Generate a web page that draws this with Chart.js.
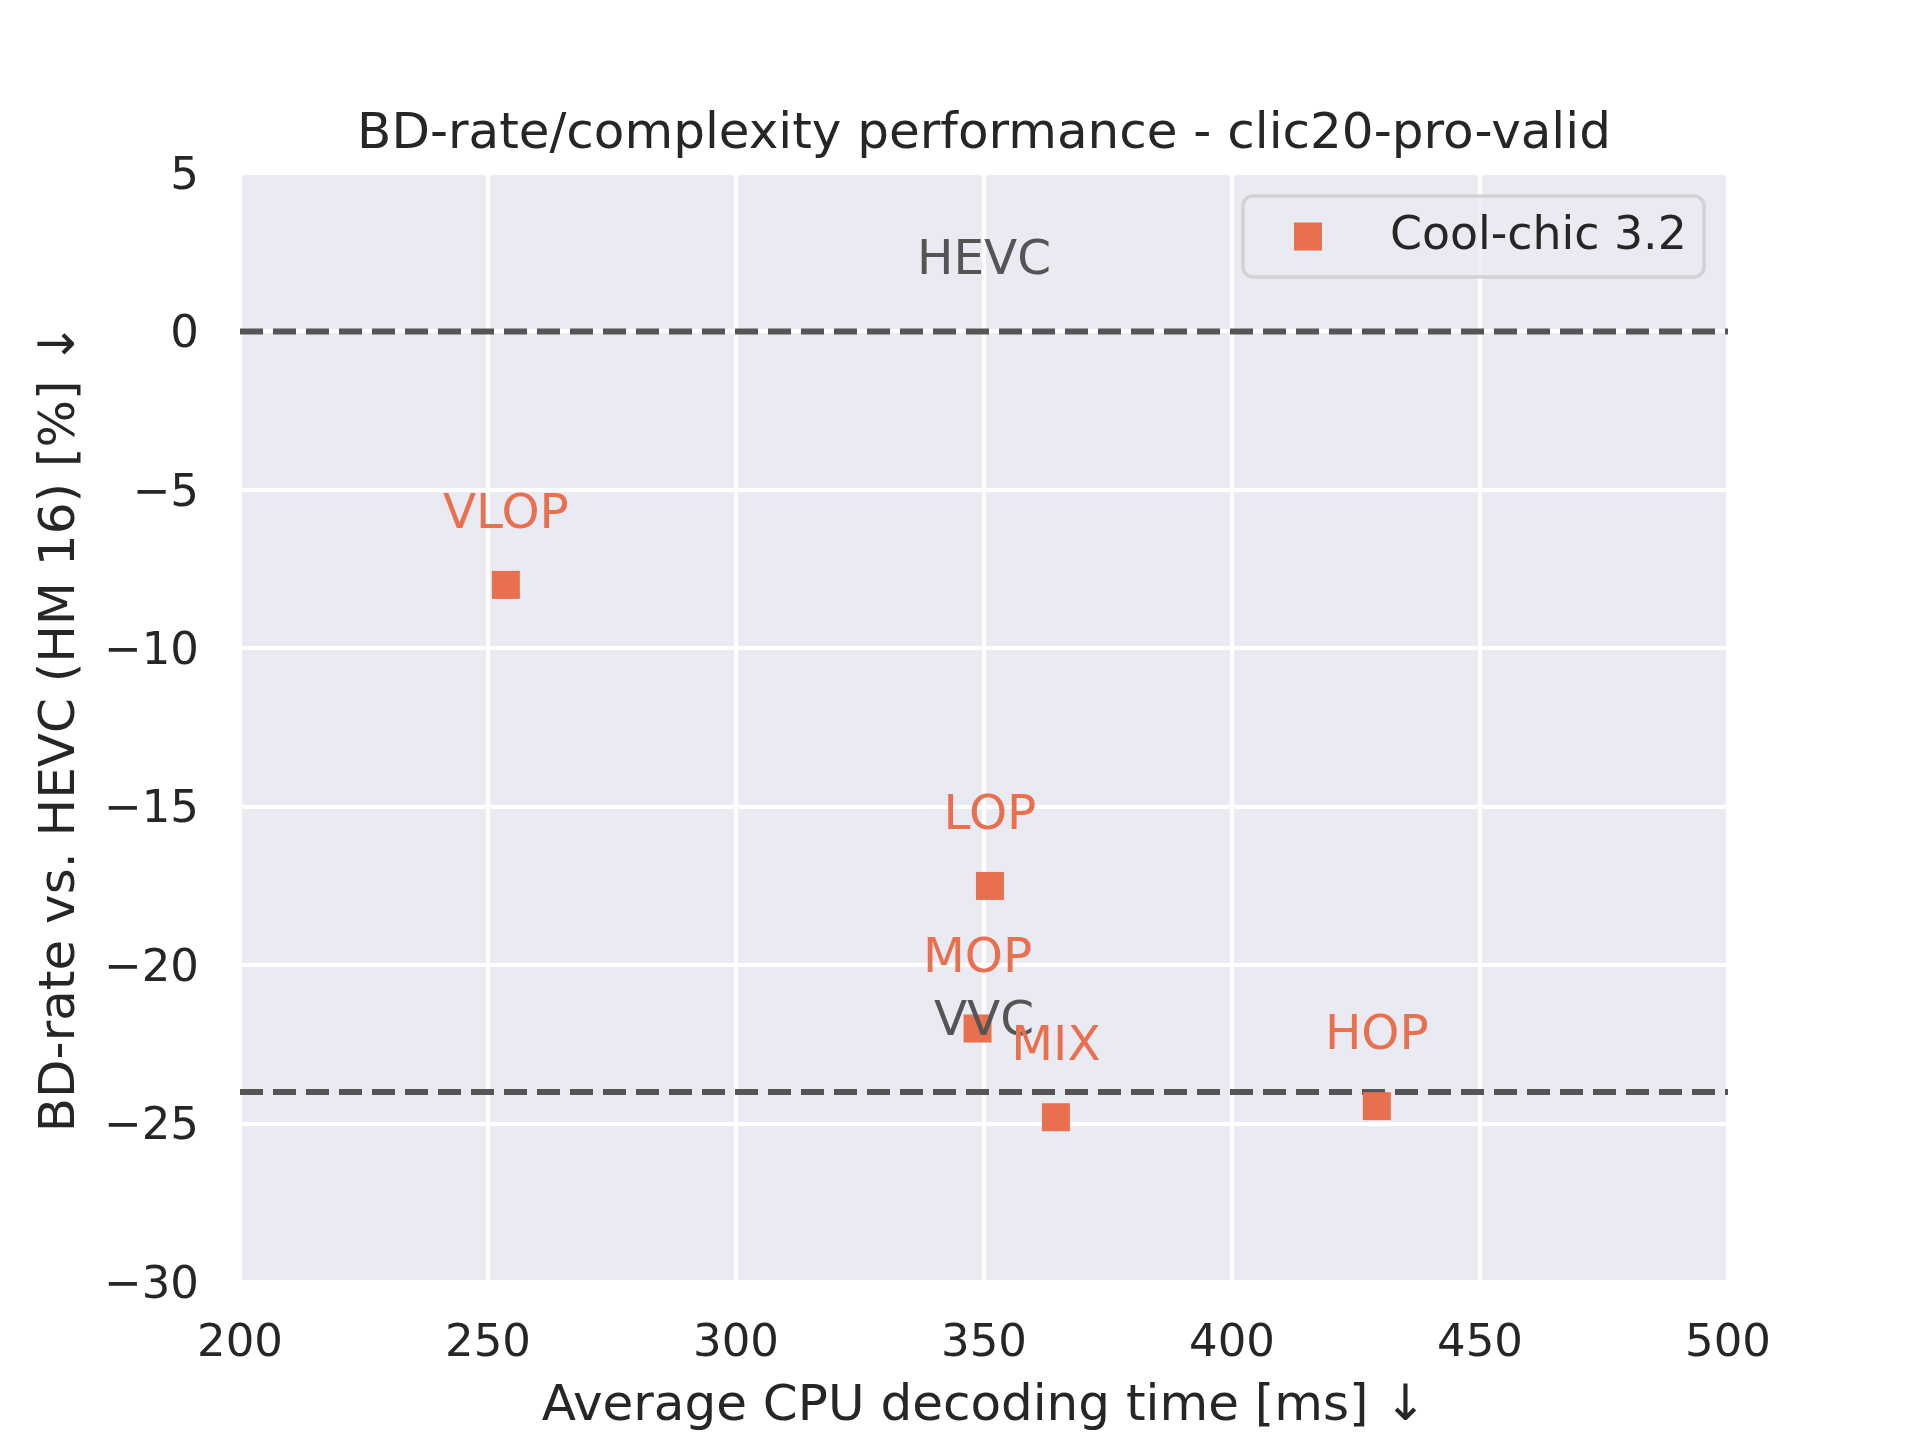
<!DOCTYPE html>
<html>
<head>
<meta charset="utf-8">
<script src="https://cdn.jsdelivr.net/npm/chart.js@4"></script>
<style>
  html, body { margin: 0; padding: 0; background: #ffffff; }
  canvas { display: block; }
</style>
</head>
<body>
<canvas id="c" width="1920" height="1440"></canvas>
<script>
// ---- data ----
const configNames = ['VLOP', 'LOP', 'MOP', 'MIX', 'HOP'];
const decodeTimeMs = [253.6, 351.2, 348.7, 364.5, 429.2];
const bdRate = [-8.0, -17.5, -22.0, -24.8, -24.45];
const refNames = ['HEVC', 'VVC'];
const refBdRate = [0, -24];
const refLabelTime = 350;
const xTicks = [200, 250, 300, 350, 400, 450, 500];
const yTicks = [5, 0, -5, -10, -15, -20, -25, -30];
const seriesName = 'Cool-chic 3.2';

const POINT_COLOR = '#E8704F';
const REF_COLOR = '#555555';
const TEXT_COLOR = '#262626';
const FONT = '"DejaVu Sans", "Liberation Sans", sans-serif';

Chart.defaults.font.family = FONT;
Chart.defaults.color = TEXT_COLOR;

const bgPlugin = {
  id: 'bg',
  beforeDraw(chart) {
    const {ctx, chartArea: a} = chart;
    ctx.save();
    ctx.fillStyle = '#EAEAF2';
    ctx.fillRect(a.left, a.top, a.right - a.left, a.bottom - a.top);
    ctx.restore();
  }
};

const labelPlugin = {
  id: 'labels',
  afterDatasetsDraw(chart) {
    const {ctx, scales: {x, y}} = chart;
    ctx.save();
    ctx.font = '48.5px ' + FONT;
    ctx.textAlign = 'center';
    ctx.textBaseline = 'alphabetic';
    ctx.fillStyle = REF_COLOR;
    refNames.forEach((n, i) => {
      ctx.fillText(n, x.getPixelForValue(refLabelTime), y.getPixelForValue(refBdRate[i]) - 57);
    });
    ctx.fillStyle = POINT_COLOR;
    configNames.forEach((n, i) => {
      ctx.fillText(n, x.getPixelForValue(decodeTimeMs[i]), y.getPixelForValue(bdRate[i]) - 57);
    });
    ctx.restore();
  }
};

function roundRect(ctx, x, y, w, h, r) {
  ctx.beginPath();
  ctx.moveTo(x + r, y);
  ctx.lineTo(x + w - r, y);
  ctx.arcTo(x + w, y, x + w, y + r, r);
  ctx.lineTo(x + w, y + h - r);
  ctx.arcTo(x + w, y + h, x + w - r, y + h, r);
  ctx.lineTo(x + r, y + h);
  ctx.arcTo(x, y + h, x, y + h - r, r);
  ctx.lineTo(x, y + r);
  ctx.arcTo(x, y, x + r, y, r);
  ctx.closePath();
}

const legendPlugin = {
  id: 'customLegend',
  afterDraw(chart) {
    const {ctx, chartArea: a} = chart;
    const w = 461, h = 81;
    const lx = a.right - 24 - w, ly = a.top + 23;
    ctx.save();
    roundRect(ctx, lx, ly, w, h, 10);
    ctx.fillStyle = 'rgba(234,234,242,0.8)';
    ctx.fill();
    ctx.lineWidth = 3.5;
    ctx.strokeStyle = 'rgba(204,204,204,0.8)';
    ctx.stroke();
    ctx.fillStyle = POINT_COLOR;
    const mx = lx + 65, my = ly + h / 2;
    ctx.fillRect(mx - 14, my - 14, 28, 28);
    ctx.fillStyle = TEXT_COLOR;
    ctx.font = '45.8px ' + FONT;
    ctx.textAlign = 'left';
    ctx.textBaseline = 'middle';
    ctx.fillText(seriesName, lx + 147, my + 1);
    ctx.restore();
  }
};

const refDatasets = refBdRate.map((v, i) => ({
  type: 'line',
  label: refNames[i],
  data: [{x: xTicks[0], y: v}, {x: xTicks[xTicks.length - 1], y: v}],
  borderColor: REF_COLOR,
  borderWidth: 6,
  borderDash: [23, 10],
  pointRadius: 0,
  fill: false,
  order: 2
}));

new Chart(document.getElementById('c'), {
  type: 'scatter',
  data: {
    datasets: [
      {
        label: seriesName,
        data: decodeTimeMs.map((t, i) => ({x: t, y: bdRate[i]})),
        pointStyle: 'rect',
        pointRadius: 19.8,
        pointHoverRadius: 19.8,
        backgroundColor: POINT_COLOR,
        borderColor: POINT_COLOR,
        borderWidth: 0,
        order: 1
      },
      ...refDatasets
    ]
  },
  options: {
    responsive: false,
    animation: false,
    devicePixelRatio: 1,
    layout: { padding: { top: 0, right: 192, bottom: 0, left: 0 } },
    plugins: {
      legend: { display: false },
      tooltip: { enabled: false },
      title: {
        display: true,
        fullSize: false,
        text: 'BD-rate/complexity performance - clic20-pro-valid',
        color: TEXT_COLOR,
        font: { size: 50, weight: 'normal' },
        padding: { top: 105, bottom: 8 }
      }
    },
    scales: {
      x: {
        type: 'linear',
        position: 'bottom',
        min: xTicks[0],
        max: xTicks[xTicks.length - 1],
        afterBuildTicks: (s) => { s.ticks = xTicks.map(v => ({value: v})); },
        afterFit: (s) => { s.height = 158; },
        grid: { color: '#ffffff', lineWidth: 4, drawTicks: false },
        border: { display: false },
        ticks: {
          color: TEXT_COLOR,
          font: { size: 45 },
          padding: 35,
          maxRotation: 0,
          callback: (v) => String(v).replace('-', '\u2212')
        },
        title: {
          display: true,
          text: 'Average CPU decoding time [ms] \u2193',
          color: TEXT_COLOR,
          font: { size: 50 },
          padding: { top: 0, bottom: 3 }
        }
      },
      y: {
        type: 'linear',
        position: 'left',
        min: yTicks[yTicks.length - 1],
        max: yTicks[0],
        afterBuildTicks: (s) => { s.ticks = yTicks.slice().reverse().map(v => ({value: v})); },
        afterFit: (s) => { s.width = 240; },
        grid: { color: '#ffffff', lineWidth: 4, drawTicks: false },
        border: { display: false },
        ticks: {
          color: TEXT_COLOR,
          font: { size: 45 },
          padding: 41,
          labelOffset: 4,
          callback: (v) => String(v).replace('-', '\u2212')
        },
        title: {
          display: true,
          text: 'BD-rate vs. HEVC (HM 16) [%] \u2193',
          color: TEXT_COLOR,
          font: { size: 50 },
          padding: { top: 31, bottom: 0 }
        }
      }
    }
  },
  plugins: [bgPlugin, labelPlugin, legendPlugin]
});
</script>
</body>
</html>
